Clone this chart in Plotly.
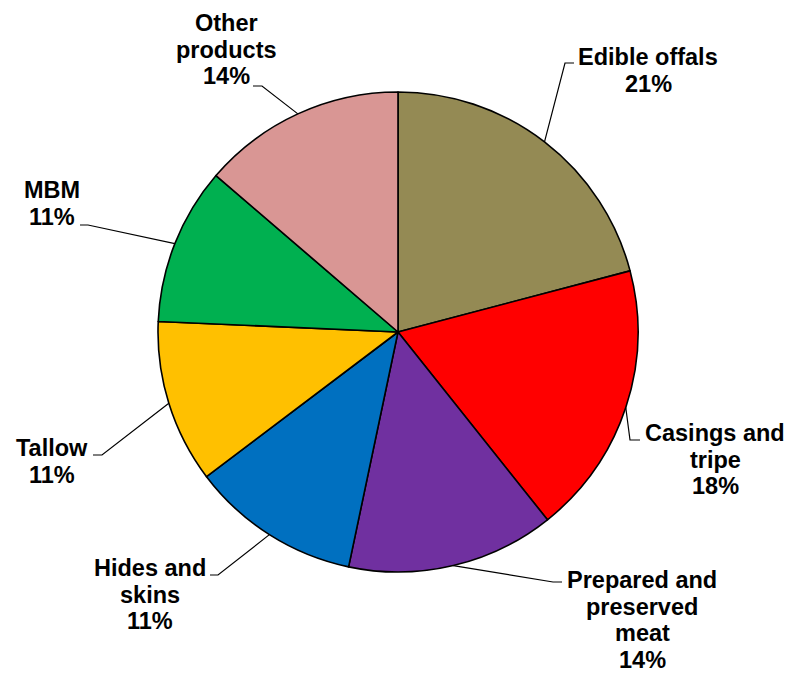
import math
import plotly.graph_objects as go

# ---- data ----
categories = ["Edible offals", "Casings and tripe", "Prepared and preserved meat",
              "Hides and skins", "Tallow", "MBM", "Other products"]
label_lines = [["Edible offals"], ["Casings and", "tripe"], ["Prepared and", "preserved", "meat"],
               ["Hides and", "skins"], ["Tallow"], ["MBM"], ["Other", "products"]]
values = [20.9, 18.4, 14.0, 11.4, 11.0, 10.6, 13.7]
colors = ["#948A54", "#FF0000", "#7030A0", "#0070C0", "#FFC000", "#00B050", "#D99694"]

# ---- layout constants (pixels) ----
W, H = 790, 675
CX, CY, R = 398, 332, 240
# label first-line centre (x, y) and leader elbow / end points
label_pos = [(648, 57), (715, 433), (642, 580), (150, 568), (52, 448), (52, 190), (227, 23)]
elbows = [((565, 63), (574, 63)), ((630, 440), (640, 440)), ((553, 582), (562, 582)),
          ((218, 575), (210, 575)), ((102, 455), (93, 455)), ((88, 225), (80, 225)),
          ((262, 86), (253, 86))]
FONT_SIZE = 23.5
LINE_GAP = 26.7


def px(x):
    return x / W


def py(y):
    return 1 - y / H


fig = go.Figure(go.Pie(
    labels=categories, values=values, sort=False, direction="clockwise", rotation=0,
    marker=dict(colors=colors, line=dict(color="black", width=1.6)),
    textinfo="none", hoverinfo="skip", showlegend=False,
    domain=dict(x=[px(CX - R), px(CX + R)], y=[py(CY + R), py(CY - R)]),
))

total = sum(values)
cum = 0
shapes = []
annotations = []
for i, v in enumerate(values):
    mid = (cum + v / 2) / total * 2 * math.pi
    cum += v
    ex = CX + R * math.sin(mid)
    ey = CY - R * math.cos(mid)
    (bx, by), (tx, ty) = elbows[i]
    shapes.append(dict(type="path", xref="paper", yref="paper",
                       path=f"M {px(ex)},{py(ey)} L {px(bx)},{py(by)} L {px(tx)},{py(ty)}",
                       line=dict(color="black", width=1.2)))
    pct = f"{round(v / total * 100)}%"
    lines = label_lines[i] + [pct]
    lx, ly = label_pos[i]
    for k, t in enumerate(lines):
        annotations.append(dict(x=px(lx), y=py(ly + k * LINE_GAP), xref="paper", yref="paper",
                                text=t, showarrow=False, xanchor="center", yanchor="middle",
                                font=dict(family="Liberation Sans, Arial, sans-serif",
                                          size=FONT_SIZE, color="black", weight="bold")))

fig.update_layout(width=W, height=H, margin=dict(l=0, r=0, t=0, b=0),
                  paper_bgcolor="white", plot_bgcolor="white",
                  shapes=shapes, annotations=annotations)

fig.write_html("out.html", config={"displayModeBar": False},
               post_script="document.body.style.margin='0';")
